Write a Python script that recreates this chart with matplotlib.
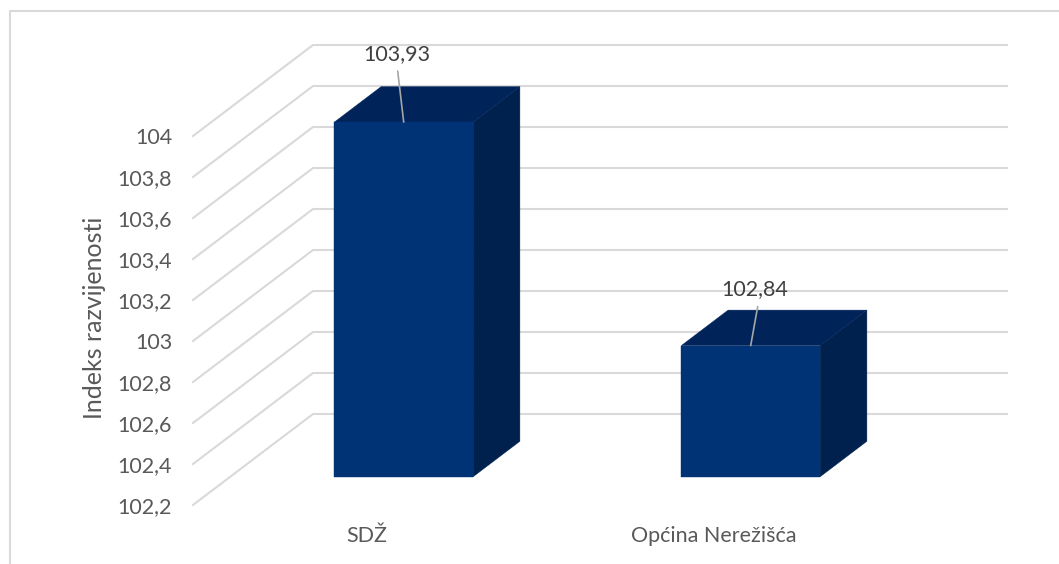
import matplotlib
matplotlib.use("Agg")
import matplotlib.pyplot as plt
from matplotlib.lines import Line2D
from matplotlib.patches import Polygon

plt.rcParams['font.family'] = ['Lato', 'DejaVu Sans']

# Chart data
categories = ['SDŽ', 'Općina Nerežišća']
values = [103.93, 102.84]
value_labels = ['103,93', '102,84']
y_ticks = [102.2, 102.4, 102.6, 102.8, 103, 103.2, 103.4, 103.6, 103.8, 104]
y_tick_labels = ['102,2', '102,4', '102,6', '102,8', '103', '103,2', '103,4', '103,6', '103,8', '104']
y_title = 'Indeks razvijenosti'

W, H = 1059, 564
GRID = '#D9D9D9'
FRONT = '#003375'
TOP = '#00245A'
SIDE = '#00204D'

# 3D look: how far the back wall is shifted from the front plane
depth_x = 120 / 347.0   # category units
depth_y = 91 / 41.0 * 0.2   # value units
bar_width = 0.4
bar_d0 = 0.31
bar_d1 = 0.70


def project(x, v, d):
    return x + d * depth_x, v + d * depth_y


fig = plt.figure(figsize=(W / 100, H / 100), dpi=100)
ax = fig.add_axes([193 / W, 1 - 505 / H, 694 / W, 369 / H])
ax.set_xlim(0, 2)
ax.set_ylim(102.2, 104)
ax.patch.set_visible(False)
for s in ax.spines.values():
    s.set_visible(False)

# outer frame, only top and left show
fig.add_artist(Line2D([9.5 / W, 9.5 / W, 1], [0, 1 - 10.5 / H, 1 - 10.5 / H], color=GRID, lw=1.5))

# side wall and back wall gridlines
for t in y_ticks:
    xs = [project(0, t, 0)[0], project(0, t, 1)[0], project(2, t, 1)[0]]
    ys = [project(0, t, 0)[1], project(0, t, 1)[1], project(2, t, 1)[1]]
    ax.plot(xs, ys, color=GRID, lw=1.5, clip_on=False, zorder=1, solid_joinstyle='miter')

# bars
for i, v in enumerate(values):
    x0 = i + 0.5 - bar_width / 2
    x1 = i + 0.5 + bar_width / 2
    base = y_ticks[0]
    front = [project(x0, base, bar_d0), project(x1, base, bar_d0), project(x1, v, bar_d0), project(x0, v, bar_d0)]
    top = [project(x0, v, bar_d0), project(x1, v, bar_d0), project(x1, v, bar_d1), project(x0, v, bar_d1)]
    side = [project(x1, base, bar_d0), project(x1, base, bar_d1), project(x1, v, bar_d1), project(x1, v, bar_d0)]
    ax.add_patch(Polygon(side, closed=True, fc=SIDE, ec=SIDE, lw=0.3, clip_on=False, zorder=2))
    ax.add_patch(Polygon(top, closed=True, fc=TOP, ec=TOP, lw=0.3, clip_on=False, zorder=2))
    ax.add_patch(Polygon(front, closed=True, fc=FRONT, ec=FRONT, lw=0.3, clip_on=False, zorder=3))

# data labels with leader lines
label_offset = [(-7, 68), (4, 56)]
leader_offset = [(-6, 51), (7, 39)]
for i, v in enumerate(values):
    xy = project(i + 0.5, v, bar_d0)
    ax.annotate('', xy=xy, xytext=leader_offset[i], textcoords='offset pixels',
                arrowprops=dict(arrowstyle='-', color='#A6A6A6', lw=1.2, shrinkA=0, shrinkB=0),
                annotation_clip=False, zorder=4)
    ax.annotate(value_labels[i], xy=xy, xytext=label_offset[i], textcoords='offset pixels',
                ha='center', va='center', fontsize=15.5, color='#404040',
                annotation_clip=False, zorder=5)

ax.set_yticks(y_ticks)
ax.set_yticklabels(y_tick_labels, fontsize=15.5, color='#595959')
ax.set_xticks([i + 0.5 for i in range(len(categories))])
ax.set_xticklabels(categories, fontsize=15.5, color='#595959')
ax.tick_params(axis='y', length=0, pad=15)
ax.tick_params(axis='x', length=0, pad=15)

fig.text(94 / W, 1 - 318 / H, y_title, rotation=90, ha='center', va='center',
         fontsize=18, color='#595959')

fig.savefig('out.png', dpi=100)
